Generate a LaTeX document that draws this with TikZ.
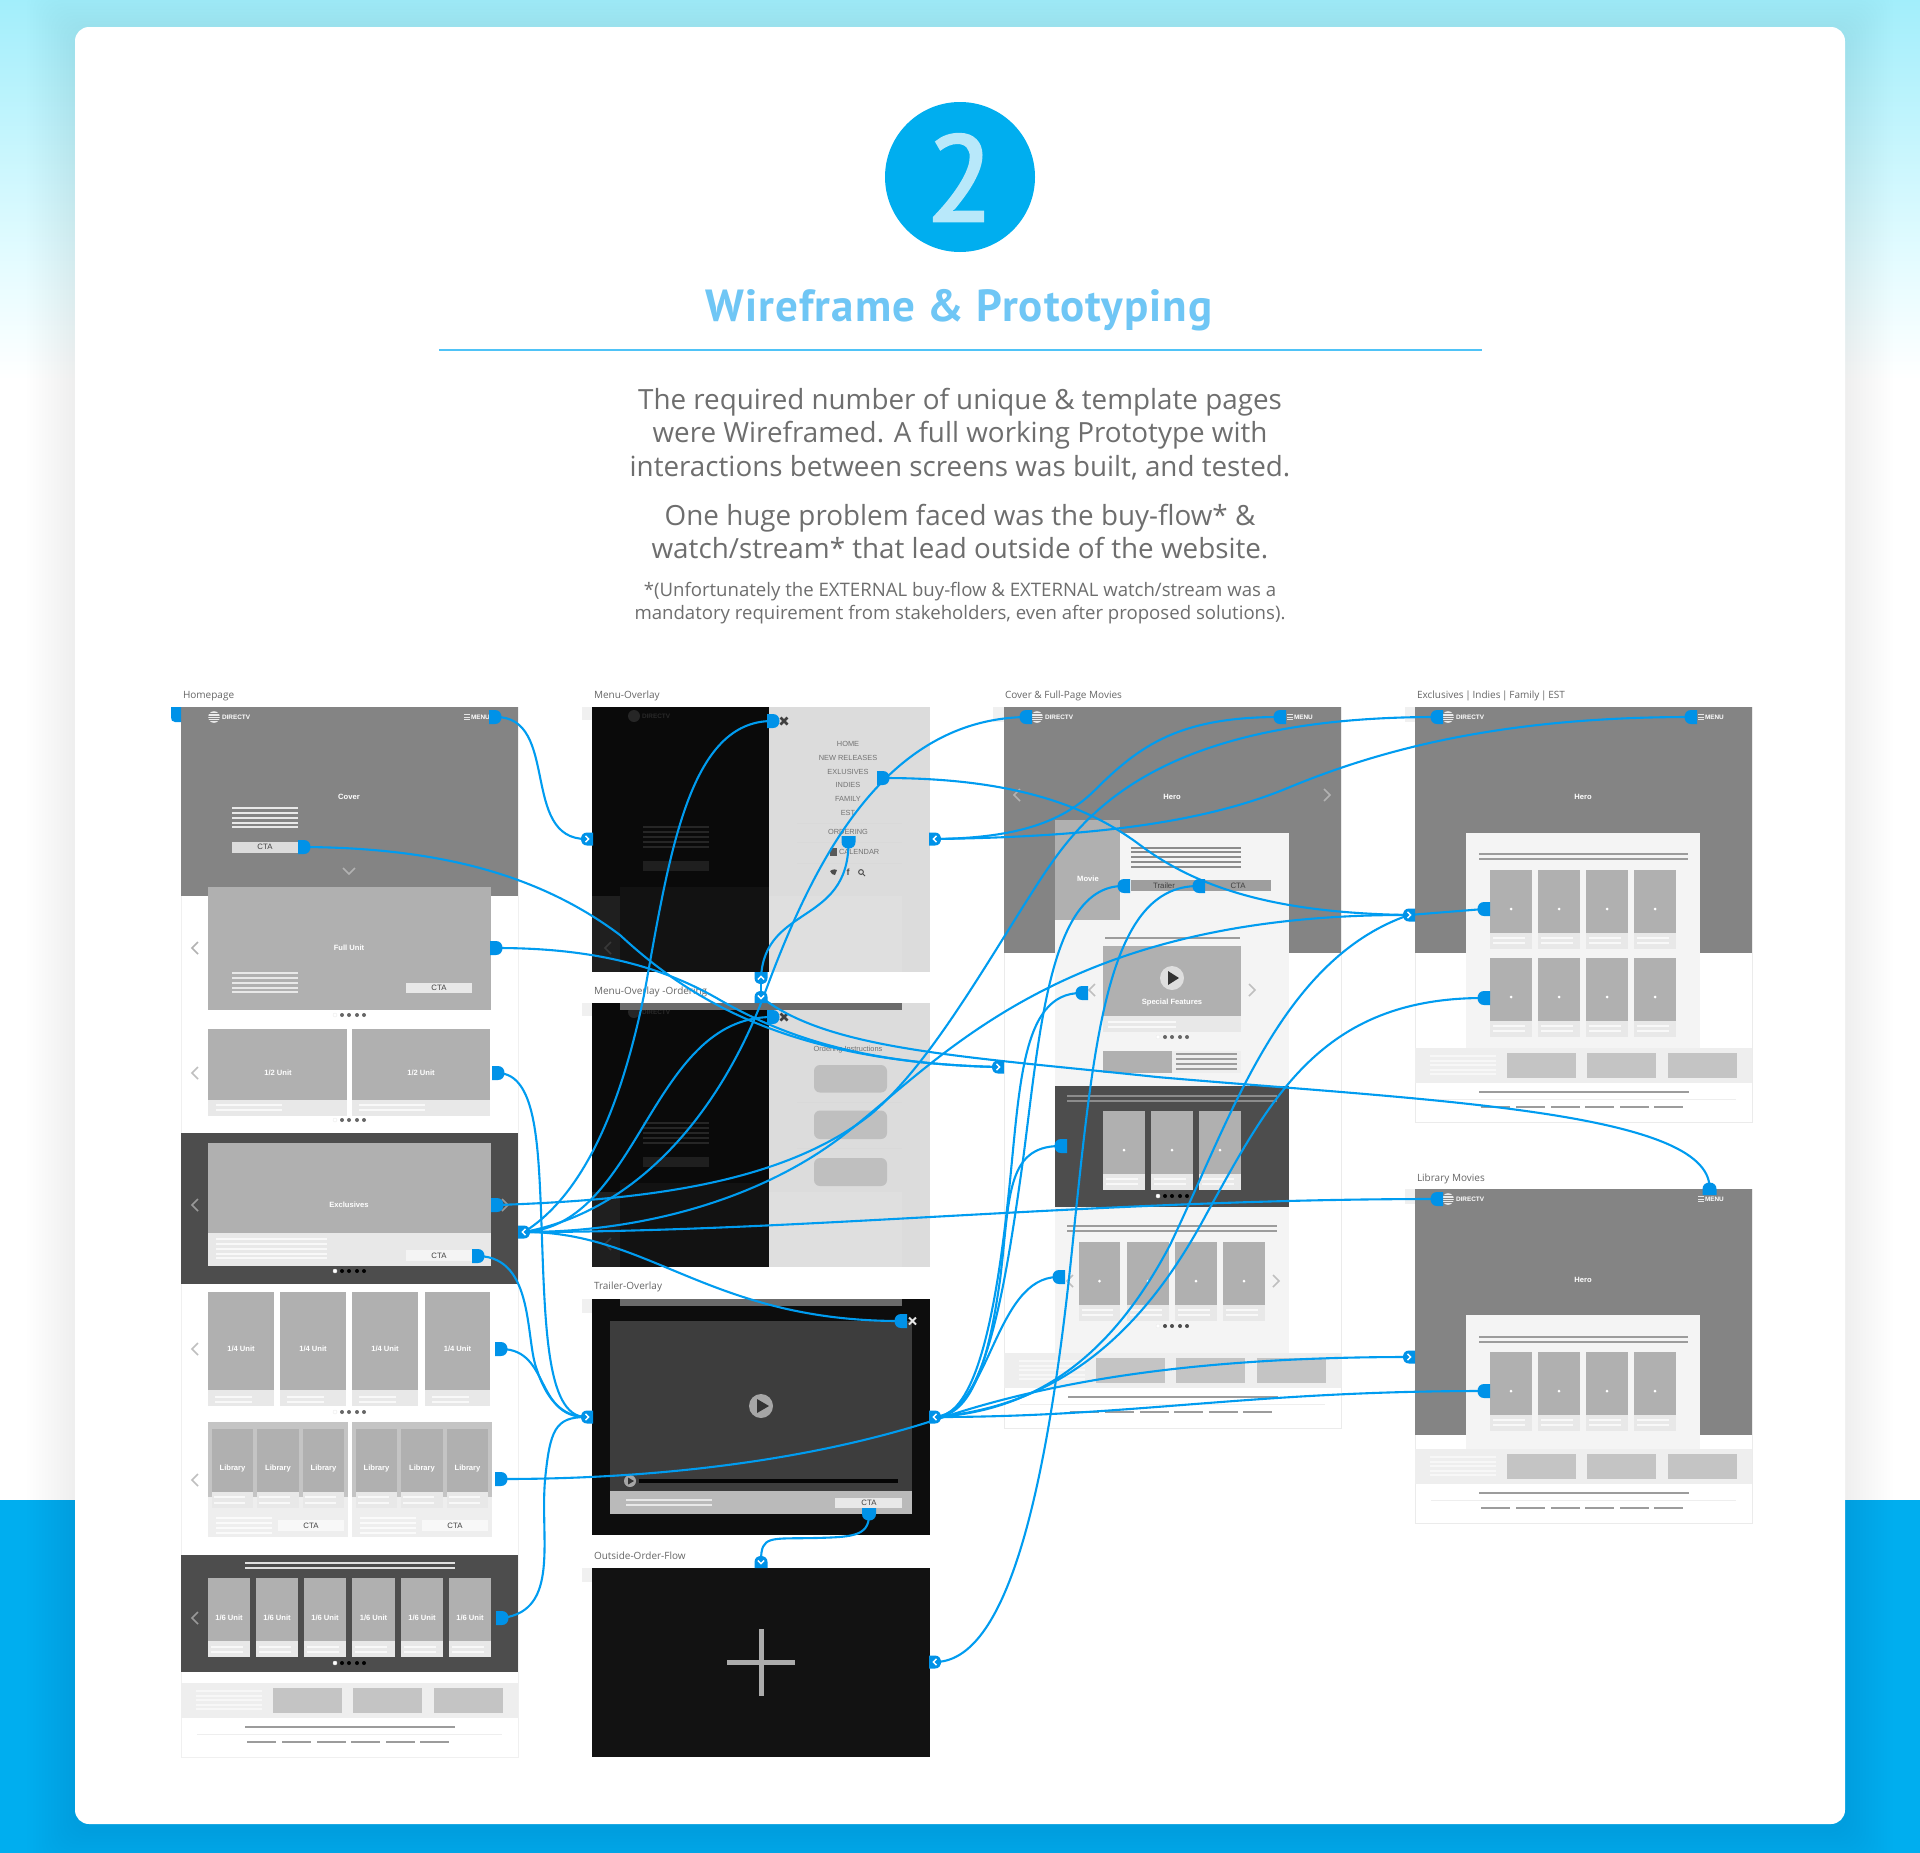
\documentclass[tikz,border=0pt]{standalone}
\usepackage{fontspec}
\setmainfont{Open Sans}
\newfontfamily\wf{Liberation Sans}
\newfontfamily\numf{PT Sans}[FakeBold=2.2]
\newfontfamily\titles{PT Sans}[LetterSpace=2.3]
\pgfdeclarelayer{bg}\pgfdeclarelayer{lines}\pgfsetlayers{bg,lines,main}
\definecolor{cHero}{HTML}{848484}
\definecolor{cUnit}{HTML}{B0B0B0}
\definecolor{cLight}{HTML}{E8E8E8}
\definecolor{cDark}{HTML}{4D4D4D}
\definecolor{cFoot}{HTML}{EEEEEE}
\definecolor{cBox}{HTML}{C4C4C4}
\definecolor{cCard}{HTML}{F4F4F4}
\definecolor{cLine}{HTML}{9C9C9C}
\definecolor{cHot}{HTML}{0092E8}
\definecolor{cWire}{HTML}{009CF0}
\definecolor{cBlue}{HTML}{00AEEF}
\definecolor{cCirc}{HTML}{00AEEF}
\definecolor{cTop}{HTML}{A2EEFB}
\definecolor{cMid}{HTML}{E6FCFF}
\definecolor{cTitle}{HTML}{6FC6F5}
\definecolor{cRule}{HTML}{4FC3F7}
\definecolor{cText}{HTML}{6E6E6E}
\definecolor{cPanel}{HTML}{DCDCDC}
\definecolor{cPanelB}{HTML}{DFDFDF}
\newcounter{tn}
\tikzset{
 txt/.style={inner sep=0pt,outer sep=0pt},
 wb/.style={txt,text=#1,font=\wf\bfseries\fontsize{7.6}{8}\selectfont},
 wb/.default=white,
 logot/.style={txt,anchor=west,text=white,font=\wf\bfseries\fontsize{6.4}{8}\selectfont},
 cta/.style={txt,text=#1,font=\wf\fontsize{7.8}{8}\selectfont},
 cta/.default={black!75},
 lab/.style={txt,anchor=west,text=black!60,font=\fontsize{10}{11}\selectfont},
 body/.style={txt,anchor=base,text=cText,font=\fontsize{27.8}{30}\selectfont},
 foot/.style={txt,anchor=base,text=cText,font=\fontsize{18.6}{20}\selectfont},
 menuit/.style={txt,text=black!55,font=\wf\fontsize{7.4}{8}\selectfont},
 wire/.style={draw=cWire,line width=2.1pt,line cap=round},
 anch/.style={inner sep=0pt,outer sep=0pt,minimum width=2pt,minimum height=2pt},
}
\newcommand\tx[4][]{\stepcounter{tn}\node[#1] (t\arabic{tn}) at (#2,#3) {#4};}
\newcommand\rc[5]{\fill[#1] (#2,#3) rectangle (#4,#5);}
\newcommand\hl[4]{\fill[#4] (#1,#3-1) rectangle (#2,#3+1);}
% hot spot: name,x,y,rotation
\newcommand\hot[4]{\node[anch] (#1) at (#2,#3) {};
 \begin{scope}[shift={(#2,#3)},rotate=#4]
 \fill[cHot] (-6,-7) -- (0,-7) .. controls (4,-7) and (6.5,-4) .. (6.5,0) .. controls (6.5,4) and (4,7) .. (0,7) -- (-6,7) -- cycle;
 \end{scope}}
% tab: name,x,y,rotation,chevron rotation
\newcommand\tab[5]{\node[anch] (#1) at (#2,#3) {};
 \begin{scope}[shift={(#2,#3)},rotate=#4]
 \fill[cHot] (-6,-6.5) -- (0,-6.5) .. controls (4,-6.5) and (6,-3.5) .. (6,0) .. controls (6,3.5) and (4,6.5) .. (0,6.5) -- (-6,6.5) -- cycle;
 \end{scope}
 \begin{scope}[shift={(#2,#3)},rotate=#5]
 \draw[white,line width=1.4pt] (-1.5,-3.2) -- (1.7,0) -- (-1.5,3.2);
 \end{scope}}
% chevron: x,y,rotation,colour
\newcommand\chev[4]{\begin{scope}[shift={(#1,#2)},rotate=#3]
 \draw[#4,line width=1.5pt] (-3,-6) -- (3,0) -- (-3,6);\end{scope}}
\newcommand\dotsr[3]{% cx,y,other colour
 \fill[white,draw=black!8,line width=.4pt] (#1-14,#2) circle (2);
 \foreach \d in {-7,0,8,15} {\fill[#3] (#1+\d,#2) circle (2);}}
\newcommand\logo[2]{\fill[white!92!black] (#1,#2) circle (5.8);
 \foreach \d in {-3.4,-1.1,1.1,3.4} {\draw[cHero,line width=.6pt] (#1-6,#2+\d) -- (#1+6,#2+\d);}
 \tx[logot]{#1+8}{#2}{DIRECTV}}
\newcommand\menuic[2]{\foreach \d in {-2.4,0,2.4} {\draw[white!90!black,line width=.8pt] (#1,#2+\d) -- (#1+6,#2+\d);}
 \tx[logot]{#1+7}{#2}{MENU}}
\newcommand\footerb[2]{\rc{cFoot}{#1}{#2}{#1+337}{#2+35}
 \foreach \d in {8,13,17,22,26} {\fill[white!50!cFoot] (#1+15,#2+\d-.9) rectangle (#1+81,#2+\d+.9);}
 \rc{cBox}{#1+92}{#2+5}{#1+161}{#2+30}\rc{cBox}{#1+172}{#2+5}{#1+241}{#2+30}\rc{cBox}{#1+253}{#2+5}{#1+322}{#2+30}
 \hl{#1+64}{#1+274}{#2+44}{cLine}
 \fill[cFoot] (#1+16,#2+50.5) rectangle (#1+321,#2+51.5);
 \foreach \d in {66,101,136,170,205,239} {\hl{#1+\d}{#1+\d+29}{#2+59}{cLine}}}
% thumb: x1,x2,ytop,bottom colour
\newcommand\thumb[4]{\rc{#4}{#1}{#3+63}{#2}{#3+79}\rc{cUnit}{#1}{#3}{#2}{#3+63}
 \fill[white] (#1/2+#2/2,#3+39) circle (1.5);
 \hl{#1+3}{#2-7}{#3+68}{white!70!cLight}\hl{#1+3}{#2-7}{#3+73}{white!70!cLight}}
\newcommand\ucard[5]{% x1,x2,ytop,ysplit,ybot
 \rc{cLight}{#1}{#4}{#2}{#5}\rc{cUnit}{#1}{#3}{#2}{#4}}
\newcommand\xic[4]{\draw[#3,line width=#4] (#1-3.5,#2-3.5) -- (#1+3.5,#2+3.5) (#1-3.5,#2+3.5) -- (#1+3.5,#2-3.5);}
\newcommand\overlayb[2]{% ytop, ybot: menu overlay base
 \rc{cPanel}{769}{#1}{930}{#2}
 \rc{cPanelB}{769}{#1+189}{902}{#2}
 \rc{black!96}{592}{#1}{769}{#2}
 \rc{black!93}{620}{#1+180}{769}{#2}
 \rc{black!88}{592}{#1+189}{620}{#2}
 \fill[black!85] (634,#1+9) circle (6);
 \tx[txt,text=black!84,font=\wf\bfseries\fontsize{6.4}{8}\selectfont,anchor=west]{642}{#1+9}{DIRECTV}
 \foreach \d in {120,125,130,135,140} {\hl{643}{709}{#1+\d}{black!85}}
 \rc{black!88}{643}{#1+154}{709}{#1+164}
 \chev{608}{#1+241}{180}{black!78}
 \rc{black!6}{582}{#1}{592}{#1+13}}
\begin{document}
\begin{tikzpicture}[x=1pt,y=-1pt]
\useasboundingbox (0,0) rectangle (1920,1853);
% ---------- hot spots and tabs (top layer)
\hot{hHomeMenu}{495}{717}{0}
\hot{hHomeCTA}{304}{847}{0}
\hot{hFull}{496}{948}{0}
\hot{hHalf}{498}{1073}{0}
\hot{hExcl}{497}{1205}{0}
\hot{hExclCTA}{478}{1256}{0}
\hot{hQuart}{501}{1349}{0}
\hot{hLib}{501}{1479}{0}
\hot{hSixth}{502}{1618}{0}
\hot{hClose}{773}{721}{0}
\hot{hClose2}{773}{1017}{0}
\hot{hMenuEx}{883}{778}{0}
\hot{hOrder}{848.5}{842}{-90}
\hot{hTrClose}{901}{1321}{180}
\hot{hTrCTA}{869}{1514}{-90}
\hot{hC3Logo}{1026}{717}{180}
\hot{hC3Menu}{1280}{717}{180}
\hot{hMovie}{1124}{886}{180}
\hot{hCTA3}{1199}{886}{180}
\hot{hSpec}{1082}{993}{180}
\hot{hDarkRow}{1061}{1146}{180}
\hot{hRow3}{1059}{1277}{180}
\hot{hC4Logo}{1437}{717}{180}
\hot{hC4Menu}{1691}{717}{180}
\hot{hR1}{1484}{909}{180}
\hot{hR2}{1484}{998}{180}
\hot{hLibLogo}{1437}{1199}{180}
\hot{hLibMenu}{1709.5}{1189}{90}
\hot{hLibRow}{1484}{1391}{180}
\tab{tHub}{524}{1232}{0}{180}
\node[anch] (hStub) at (176,714) {};
\fill[cHot] (171,707) -- (181,707) -- (181,722) -- (175,722) .. controls (172,722) and (171,720) .. (171,717) -- cycle;
\tab{tMenuL}{587}{839}{180}{0}
\tab{tMenuR}{935}{839}{0}{180}
\tab{tUp}{761}{978}{-90}{90}
\tab{tDown}{761}{997}{90}{-90}
\tab{tTrL}{587}{1417}{180}{0}
\tab{tTrR}{935}{1417}{0}{180}
\tab{tOutTop}{761}{1562}{90}{-90}
\tab{tOutR}{935}{1662}{0}{180}
\tab{tC3}{998}{1067}{180}{0}
\tab{tC4}{1409}{915}{180}{0}
\tab{tLib}{1409}{1357}{180}{0}
% ---------- connectors
\begin{pgfonlayer}{lines}
\draw[wire] (hHomeMenu) .. controls (560,717) and (520,839) .. (tMenuL);
\draw[wire] (hHomeCTA) .. controls (440,848) and (540,875) .. (620,935) .. controls (690,1000) and (790,1062) .. (tC3);
\draw[wire] (hFull) .. controls (590,948) and (660,965) .. (720,1000) .. controls (790,1040) and (870,1064) .. (tC3);
\draw[wire] (tDown) .. controls (830,1050) and (960,1056) .. (1157,1077) .. controls (1420,1100) and (1710,1110) .. (hLibMenu);
\draw[wire] (hOrder) .. controls (848,925) and (765,905) .. (tUp);
\draw[wire] (tUp) -- (tDown);
\draw[wire] (tHub) .. controls (590,1190) and (625,1090) .. (645,990) .. controls (670,850) and (690,721) .. (hClose);
\draw[wire] (tHub) .. controls (640,1225) and (650,1017) .. (hClose2);
\draw[wire] (tHub) .. controls (640,1210) and (720,1110) .. (763,998) .. controls (810,870) and (880,720) .. (hC3Logo);
\draw[wire] (tMenuR) .. controls (1010,838) and (1060,825) .. (1095,790) .. controls (1140,745) and (1180,717) .. (hC3Menu);
\draw[wire] (tMenuR) .. controls (1080,837) and (1200,825) .. (1290,787) .. controls (1380,750) and (1500,717) .. (hC4Menu);
\draw[wire] (hExcl) .. controls (640,1200) and (780,1185) .. (870,1115) .. controls (930,1065) and (985,965) .. (1040,880) .. controls (1080,820) and (1150,717) .. (hC4Logo);
\draw[wire] (tHub) .. controls (650,1232) and (770,1195) .. (850,1130) .. controls (950,1050) and (1070,914) .. (tC4);
\draw[wire] (hMenuEx) .. controls (1000,778) and (1080,800) .. (1140,845) .. controls (1200,890) and (1280,913) .. (tC4);
\draw[wire] (tC4) -- (hR1);
\draw[wire] (tTrR) .. controls (1050,1410) and (1120,1340) .. (1170,1245) .. controls (1230,1120) and (1280,960) .. (tC4);
\draw[wire] (tTrR) .. controls (1070,1405) and (1150,1320) .. (1207,1213) .. controls (1270,1100) and (1320,998) .. (hR2);
\draw[wire] (tOutR) .. controls (1010,1660) and (1050,1480) .. (1075,1220) .. controls (1095,1030) and (1110,886) .. (hCTA3);
\draw[wire] (tTrR) .. controls (985,1415) and (1005,1290) .. (1023,1160) .. controls (1040,1030) and (1050,886) .. (hMovie);
\draw[wire] (tTrR) .. controls (975,1415) and (995,1320) .. (1008,1200) .. controls (1020,1090) and (1020,993) .. (hSpec);
\draw[wire] (tTrR) .. controls (975,1415) and (990,1350) .. (1000,1280) .. controls (1010,1200) and (1005,1146) .. (hDarkRow);
\draw[wire] (tTrR) .. controls (990,1410) and (995,1277) .. (hRow3);
\draw[wire] (hLib) .. controls (680,1479) and (830,1455) .. (941,1418) .. controls (1040,1385) and (1180,1357) .. (tLib);
\draw[wire] (tTrR) .. controls (1130,1417) and (1250,1391) .. (hLibRow);
\draw[wire] (tHub) .. controls (800,1232) and (1100,1199) .. (hLibLogo);
\draw[wire] (tHub) .. controls (650,1232) and (710,1321) .. (hTrClose);
\draw[wire] (hHalf) .. controls (535,1075) and (538,1140) .. (541,1210) .. controls (545,1320) and (545,1417) .. (tTrL);
\draw[wire] (hExclCTA) .. controls (535,1258) and (525,1340) .. (537,1370) .. controls (545,1395) and (560,1417) .. (tTrL);
\draw[wire] (hQuart) .. controls (550,1350) and (535,1417) .. (tTrL);
\draw[wire] (hSixth) .. controls (560,1610) and (540,1540) .. (545,1480) .. controls (550,1430) and (555,1417) .. (tTrL);
\draw[wire] (hTrCTA) .. controls (869,1537) and (850,1537) .. (815,1538) .. controls (770,1539) and (761,1535) .. (tOutTop);
\end{pgfonlayer}
% ---------- everything underneath
\begin{pgfonlayer}{bg}
\fill[white] (0,0) rectangle (1920,1853);
\shade[top color=cTop,bottom color=cMid] (0,0) rectangle (1920,270);
\shade[top color=cMid,bottom color=white] (0,270) rectangle (1920,380);
\rc{cBlue}{0}{1500}{1920}{1853}
\foreach \e in {3,6,...,48} {\fill[black,opacity=.005,rounded corners=20] (75-\e,27-\e+6) rectangle (1845+\e,1824+\e+6);}
\fill[white,rounded corners=14] (75,27) rectangle (1845,1824);
% heading
\fill[cCirc] (960,177) circle (75);
\node[txt,anchor=base,text=white!72!cCirc,font=\numf\fontsize{122}{124}\selectfont] (num) at (960,221) {2};
\node[txt,anchor=base,text=cTitle,font=\titles\bfseries\fontsize{45}{50}\selectfont] (title) at (959,321) {Wireframe \& Prototyping};
\draw[cRule,line width=2pt] (439,350) -- (1482,350);
\tx[body]{960}{409}{The required number of unique \& template pages}
\tx[body]{960}{442.5}{were Wireframed. A full working Prototype with}
\tx[body]{960}{476.5}{interactions between screens was built, and tested.}
\tx[body]{960}{525.5}{One huge problem faced was the buy-flow* \&}
\tx[body]{960}{558.5}{watch/stream* that lead outside of the website.}
\tx[foot]{960}{596.5}{*(Unfortunately the EXTERNAL buy-flow \& EXTERNAL watch/stream was a}
\tx[foot]{960}{619.5}{mandatory requirement from stakeholders, even after proposed solutions).}
% labels
\tx[lab]{183}{696}{Homepage}
\tx[lab]{594}{696}{Menu-Overlay}
\tx[lab]{594}{992}{Menu-Overlay -Ordering}
\tx[lab]{594}{1287}{Trailer-Overlay}
\tx[lab]{594}{1556}{Outside-Order-Flow}
\tx[lab]{1005}{696}{Cover \& Full-Page Movies}
\tx[lab]{1417}{696}{Exclusives\,|\,Indies\,|\,Family\,|\,EST}
\tx[lab]{1417}{1179}{Library Movies}
% ---------- homepage
\draw[black!6,line width=.6pt,fill=white] (181,707) rectangle (518,1757);
\rc{cHero}{181}{707}{518}{896}
\logo{214}{717}\menuic{464}{717}
\tx[wb]{349}{797}{Cover}
\foreach \y in {808,813,818,823,827} {\hl{232}{298}{\y}{cLight}}
\rc{cPanel}{232}{842}{298}{853}\tx[cta]{265}{847}{CTA}
\chev{349}{871}{-90}{black!30}
\rc{cUnit}{208}{887}{491}{1010}
\tx[wb]{349}{948}{Full Unit}
\foreach \y in {973,978,983,988,992} {\hl{232}{298}{\y}{cLight}}
\rc{cLight}{406}{983}{472}{993}\tx[cta]{439}{988}{CTA}
\chev{195}{948}{180}{black!30}
\dotsr{349}{1015}{black!60}
\ucard{208}{347}{1029}{1100}{1116}\ucard{352}{490}{1029}{1100}{1116}
\tx[wb]{278}{1073}{1/2 Unit}\tx[wb]{421}{1073}{1/2 Unit}
\foreach \y in {1105,1110} {\hl{216}{282}{\y}{white!70!cLight}\hl{359}{425}{\y}{white!70!cLight}}
\chev{195}{1073}{180}{black!25}
\dotsr{349}{1120}{black!60}
\rc{cDark}{181}{1133}{518}{1284}
\ucard{208}{491}{1143}{1233}{1266}
\tx[wb]{349}{1205}{Exclusives}
\foreach \y in {1239,1244,1249,1254,1258} {\hl{216}{327}{\y}{white!70!cLight}}
\rc{cCard}{406}{1250}{472}{1261}\tx[cta]{439}{1255.5}{CTA}
\chev{195}{1205}{180}{black!40}\chev{505}{1205}{0}{black!40}
\dotsr{349}{1271}{black}
\foreach \a/\b in {208/274,280/346,352/418,425/490} {\ucard{\a}{\b}{1292}{1390}{1406}
 \tx[wb]{\a/2+\b/2}{1349}{1/4 Unit}\hl{\a+7}{\a+44}{1397}{white!70!cLight}\hl{\a+7}{\a+44}{1402}{white!70!cLight}}
\chev{195}{1349}{180}{black!25}
\dotsr{349}{1412}{black!60}
\rc{cFoot}{208}{1497}{348}{1537}\rc{cBox}{208}{1422}{348}{1497}
\rc{cFoot}{352}{1497}{492}{1537}\rc{cBox}{352}{1422}{492}{1497}
\foreach \a/\b in {212/253,257/299,303/344,356/397,401/443,447/488} {\rc{cLight}{\a}{1492}{\b}{1508}\rc{cUnit}{\a}{1429}{\b}{1492}
 \tx[wb]{\a/2+\b/2}{1469}{Library}\hl{\a+2}{\a+33}{1497}{white!70!cLight}\hl{\a+2}{\a+33}{1503}{white!70!cLight}}
\foreach \y in {1518,1523,1528,1533} {\hl{216}{272}{\y}{white!70!cFoot}\hl{360}{416}{\y}{white!70!cFoot}}
\rc{white!60!cFoot}{278}{1520}{344}{1531}\tx[cta]{311}{1525.5}{CTA}
\rc{white!60!cFoot}{422}{1520}{488}{1531}\tx[cta]{455}{1525.5}{CTA}
\chev{195}{1480}{180}{black!25}
\rc{cDark}{181}{1555}{518}{1672}
\hl{245}{455}{1563}{black!12}\hl{245}{455}{1568}{black!12}
\foreach \a/\b in {208/250,256/298,304/346,352/395,401/443,449/491} {\ucard{\a}{\b}{1578}{1641}{1657}
 \tx[wb]{\a/2+\b/2}{1618}{1/6 Unit}\hl{\a+3}{\a+35}{1647}{white!70!cLight}\hl{\a+3}{\a+35}{1652}{white!70!cLight}}
\chev{195}{1618}{180}{black!40}
\dotsr{349}{1663}{black}
\footerb{181}{1683}
% ---------- menu overlay
\overlayb{707}{972}
\tx[menuit]{848}{743.5}{HOME}\tx[menuit]{848}{758}{NEW RELEASES}\tx[menuit]{848}{772}{EXLUSIVES}
\tx[menuit]{848}{785}{INDIES}\tx[menuit]{848}{799}{FAMILY}\tx[menuit]{848}{813}{EST}
\tx[menuit]{848}{831.5}{ORDERING}
\tx[menuit,anchor=west]{839}{852}{CALENDAR}
\rc{black!65}{830}{848}{837}{856}
\foreach \y in {823,842,863} {\fill[black!15] (797,\y-.5) rectangle (902,\y+.5);}
\fill[black!70] (830,871) .. controls (833,869) and (836,869) .. (837,870) -- (835,875) -- (832,874) -- cycle;
\tx[txt,text=black!70,font=\wf\bfseries\fontsize{9}{9}\selectfont]{848}{872}{f}
\draw[black!70,line width=1pt] (861,872) circle (2.4) (863,874) -- (865,876);
\xic{784}{721}{black!75}{2.6pt}
% ---------- menu overlay ordering
\overlayb{1003}{1267}
\rc{black!58}{620}{1003}{902}{1010}
\tx[menuit,font=\wf\fontsize{7.4}{9}\selectfont]{848}{1050}{Ordering Instructions}
\foreach \a/\b in {1065/1092.5,1110.5/1139,1158/1186} {\fill[black!25,rounded corners=6] (814,\a) rectangle (887,\b);}
\foreach \y in {1102,1148} {\fill[black!15] (797,\y-.5) rectangle (902,\y+.5);}
\xic{784}{1017}{black!75}{2.6pt}
% ---------- trailer overlay
\rc{black!95}{592}{1299}{930}{1535}
\rc{black!58}{620}{1299}{902}{1306}
\rc{black!6}{582}{1299}{592}{1313}
\rc{black!76}{610}{1321}{912}{1491}
\rc{black!27}{610}{1491}{912}{1514}
\fill[black!35] (761,1406) circle (12);
\fill[black!80] (757,1399) -- (769,1406) -- (757,1413) -- cycle;
\fill[black!35] (630,1481) circle (6);
\fill[black!80] (628,1477.5) -- (634,1481) -- (628,1484.5) -- cycle;
\rc{black!98}{639}{1479}{898}{1483}
\hl{626}{712}{1500}{cLight}\hl{626}{712}{1505}{cLight}
\rc{cLight}{835}{1498}{902}{1508}\tx[cta]{869}{1503}{CTA}
\xic{912.5}{1321}{black!10}{2pt}
% ---------- outside order flow
\rc{black!93}{592}{1568}{930}{1757}
\rc{black!6}{582}{1568}{592}{1582}
\rc{black!33}{727}{1659.5}{795}{1664.5}
\rc{black!33}{758.5}{1629}{763.5}{1696}
% ---------- cover & full page movies
\draw[black!8,line width=.8pt,fill=white] (1004,707) rectangle (1341,1428);
\rc{cHero}{1004}{707}{1341}{953}
\rc{black!6}{993}{707}{1004}{722}
\logo{1037}{717}\menuic{1287}{717}
\tx[wb]{1172}{797}{Hero}
\chev{1017}{795}{180}{black!30}\chev{1327}{795}{0}{black!30}
\rc{cCard}{1055}{833}{1289}{1353}
\rc{cUnit}{1055}{820}{1120}{920}\tx[wb]{1088}{879}{Movie}
\foreach \y in {848,852,857,862,867} {\fill[black!45] (1131,\y-.8) rectangle (1241,\y+.8);}
\rc{black!38}{1131}{880}{1271}{891}
\tx[cta]{1164}{886}{Trailer}\tx[cta]{1238}{886}{CTA}
\hl{1105}{1240}{938}{cLine}
\ucard{1103}{1241}{946}{1016}{1032}
\fill[black!13] (1172,978) circle (12);
\fill[black!80] (1168,971) -- (1179,978) -- (1168,985) -- cycle;
\tx[wb]{1172}{1003}{Special Features}
\hl{1108}{1176}{1022}{white!70!cLight}\hl{1108}{1176}{1027}{white!70!cLight}
\chev{1092}{990}{180}{black!25}\chev{1252}{990}{0}{black!25}
\dotsr{1172}{1037}{black!60}
\rc{cFoot}{1172}{1051}{1241}{1073}\rc{cUnit}{1103}{1051}{1172}{1073}
\foreach \y in {1054,1059,1064,1069} {\hl{1176}{1237}{\y}{cLine}}
\rc{cDark}{1055}{1086}{1289}{1207}
\hl{1067}{1277}{1096}{black!45}\hl{1067}{1277}{1100.5}{black!45}
\foreach \a/\b in {1103/1145,1151/1193,1199/1241} {\thumb{\a}{\b}{1111}{cLight}}
\dotsr{1172}{1196}{black}
\hl{1067}{1277}{1226}{cLine}\hl{1067}{1277}{1231}{cLine}
\foreach \a/\b in {1079/1120,1127/1169,1175/1217,1223/1265} {\thumb{\a}{\b}{1242}{cLight}}
\chev{1070}{1281}{180}{black!25}\chev{1276}{1281}{0}{black!25}
\dotsr{1172}{1326}{black!70}
\footerb{1004}{1353}
% ---------- exclusives page
\draw[black!8,line width=.8pt,fill=white] (1415,707) rectangle (1752,1122);
\rc{cHero}{1415}{707}{1752}{953}
\rc{black!6}{1405}{707}{1415}{722}
\logo{1448}{717}\menuic{1698}{717}
\tx[wb]{1583}{797}{Hero}
\rc{cCard}{1466}{833}{1700}{1048}
\hl{1479}{1688}{854}{cLine}\hl{1479}{1688}{859}{cLine}
\foreach \a/\b in {1490/1532,1538/1580,1586/1628,1634/1676} {\thumb{\a}{\b}{870}{cLight}\thumb{\a}{\b}{958}{cLight}}
\footerb{1415}{1048}
% ---------- library movies
\draw[black!8,line width=.8pt,fill=white] (1415,1189) rectangle (1752,1523);
\rc{cHero}{1415}{1189}{1752}{1435}
\rc{black!6}{1405}{1189}{1415}{1204}
\logo{1448}{1199}\menuic{1698}{1199}
\tx[wb]{1583}{1280}{Hero}
\rc{cCard}{1466}{1315}{1700}{1449}
\hl{1479}{1688}{1337}{cLine}\hl{1479}{1688}{1342}{cLine}
\foreach \a/\b in {1490/1532,1538/1580,1586/1628,1634/1676} {\thumb{\a}{\b}{1352}{cLight}}
\footerb{1415}{1449}
\end{pgfonlayer}
\end{tikzpicture}
\end{document}
